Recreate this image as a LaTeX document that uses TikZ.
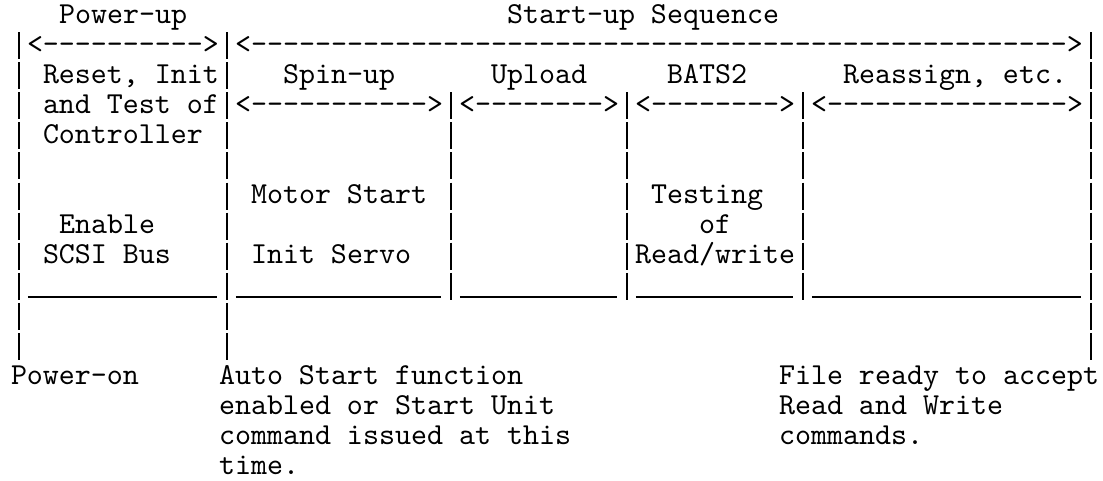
\documentclass[tikz,border=0pt]{standalone}
\usepackage{fontspec}
\setmonofont{lmmono10-regular.otf}
\usetikzlibrary{positioning}

% a run of n dashes between < and >
\newcommand\spanarr[1]{<\foreach \i in {1,...,#1}{-}>}

\tikzset{
  chars/.style={anchor=base west, inner sep=0pt, outer sep=0pt,
    font=\ttfamily\fontsize{30.476bp}{30.1bp}\selectfont},
  barline/.style={line width=1.4bp, dash pattern=on 27bp off 3.1bp},
  floorline/.style={line width=1.3bp}
}

\begin{document}
\begin{tikzpicture}[x=16bp, y=-30.1bp, every node/.style={chars}]
    \useasboundingbox (-11bp,23bp) rectangle (1092bp,-458bp);
    % headings and their spans
    \node (powerup) at (3,0) {Power-up};
    \node (startup) at (31,0) {Start-up Sequence};
    \node (powerspan) at (1,1) {\spanarr{10}};
    \node (startspan) at (14,1) {\spanarr{51}};
    % phases
    \node (reset) at (2,2) {Reset, Init};
    \node (spinup) at (17,2) {Spin-up};
    \node (upload) at (30,2) {Upload};
    \node (bats) at (41,2) {BATS2};
    \node (reassign) at (52,2) {Reassign, etc.};
    \node (testof) at (2,3) {and Test of};
    \node (spinspan) at (14,3) {\spanarr{11}};
    \node (uploadspan) at (28,3) {\spanarr{8}};
    \node (batsspan) at (39,3) {\spanarr{8}};
    \node (reassignspan) at (50,3) {\spanarr{15}};
    \node (controller) at (2,4) {Controller};
    \node (motor) at (15,6) {Motor Start};
    \node (testing) at (40,6) {Testing};
    \node (enable) at (3,7) {Enable};
    \node (of) at (43,7) {of};
    \node (scsi) at (2,8) {SCSI Bus};
    \node (servo) at (15,8) {Init Servo};
    \node (readwrite) at (39,8) {Read/write};
    % bars and bottoms of the boxes
    \foreach \c/\first/\last in {0/1/11, 13/1/11, 67/1/11, 27/3/9, 38/3/9, 49/3/9}
      \draw[barline] (\c+.5,\first-.7) -- (\c+.5,\last+.27);
    \foreach \a/\b in {1/13, 14/27, 28/38, 39/49, 50/67}
      \draw[floorline] (\a+.05,9.1) -- (\b-.1,9.1);
    % events
    \node (poweron) at (0,12) {Power-on};
    \node (auto1) at (13,12) {Auto Start function};
    \node (auto2) at (13,13) {enabled or Start Unit};
    \node (auto3) at (13,14) {command issued at this};
    \node (auto4) at (13,15) {time.};
    \node (ready1) at (48,12) {File ready to accept};
    \node (ready2) at (48,13) {Read and Write};
    \node (ready3) at (48,14) {commands.};
\end{tikzpicture}
\end{document}
